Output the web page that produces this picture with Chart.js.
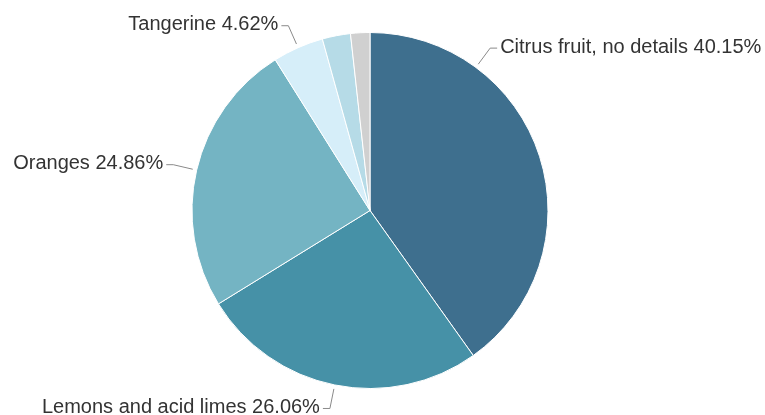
<!DOCTYPE html>
<html>
<head>
<meta charset="utf-8">
<script src="https://cdn.jsdelivr.net/npm/chart.js@4/dist/chart.umd.min.js"></script>
<style>
  html, body { margin: 0; padding: 0; background: #ffffff; }
  #wrap { position: relative; width: 765px; height: 415px; }
</style>
</head>
<body>
<div id="wrap"><canvas id="c"></canvas></div>
<script>
// ---- data ----
const categories = ['Citrus fruit, no details', 'Lemons and acid limes', 'Oranges', 'Tangerine', '', ''];
const shares = [40.15, 26.06, 24.86, 4.62, 2.56, 1.75];
const sliceColors = ['#3e6f8e', '#4691a7', '#74b4c3', '#d6eef9', '#b6dbe7', '#d0d0d0'];

// ---- label plugin (Highcharts-like outside labels with connectors) ----
const outsideLabels = {
  id: 'outsideLabels',
  afterDatasetsDraw(chart, args, opts) {
    const ctx = chart.ctx;
    const meta = chart.getDatasetMeta(0);
    ctx.save();
    ctx.font = opts.font;
    ctx.textBaseline = 'middle';
    meta.data.forEach((arc, i) => {
      const name = categories[i];
      if (!name) return;
      const p = arc.getProps(['x', 'y', 'startAngle', 'endAngle', 'outerRadius'], true);
      let ang = (p.startAngle + p.endAngle) / 2;
      const ov = opts.anchorAngles[i];
      if (ov !== null && ov !== undefined) ang = ov * Math.PI / 180 - Math.PI / 2;
      const dx = Math.cos(ang), dy = Math.sin(ang);
      const r0 = p.outerRadius + opts.gap;
      const r1 = p.outerRadius + opts.distance;
      const ax = p.x + dx * r0, ay = p.y + dy * r0;
      const ex = p.x + dx * r1, ey = p.y + dy * r1;
      const side = dx >= 0 ? 1 : -1;
      const hx = ex + side * opts.crook;
      ctx.strokeStyle = opts.lineColor;
      ctx.lineWidth = 1;
      ctx.beginPath();
      ctx.moveTo(ax, ay);
      ctx.lineTo(ex, ey);
      ctx.lineTo(hx, ey);
      ctx.stroke();
      ctx.fillStyle = opts.color;
      ctx.textAlign = side > 0 ? 'left' : 'right';
      const txt = name + ' ' + shares[i].toFixed(2) + '%';
      ctx.fillText(txt, hx + side * opts.textGap, ey - 1);
    });
    ctx.restore();
  }
};

new Chart(document.getElementById('c'), {
  type: 'pie',
  data: {
    labels: categories,
    datasets: [{
      data: shares,
      backgroundColor: sliceColors,
      borderColor: '#ffffff',
      borderWidth: 1
    }]
  },
  options: {
    responsive: true,
    maintainAspectRatio: false,
    animation: false,
    layout: { padding: { top: 32, bottom: 26, left: 0, right: 25 } },
    plugins: {
      legend: { display: false },
      tooltip: { enabled: false },
      outsideLabels: {
        font: '20px "Liberation Sans", Arial, sans-serif',
        color: '#333333',
        lineColor: '#8a8a8a',
        gap: 4,
        distance: 24,
        crook: 7,
        textGap: 3,
        anchorAngles: [36.5, null, null, null, null, null]
      }
    }
  },
  plugins: [outsideLabels]
});
</script>
</body>
</html>
